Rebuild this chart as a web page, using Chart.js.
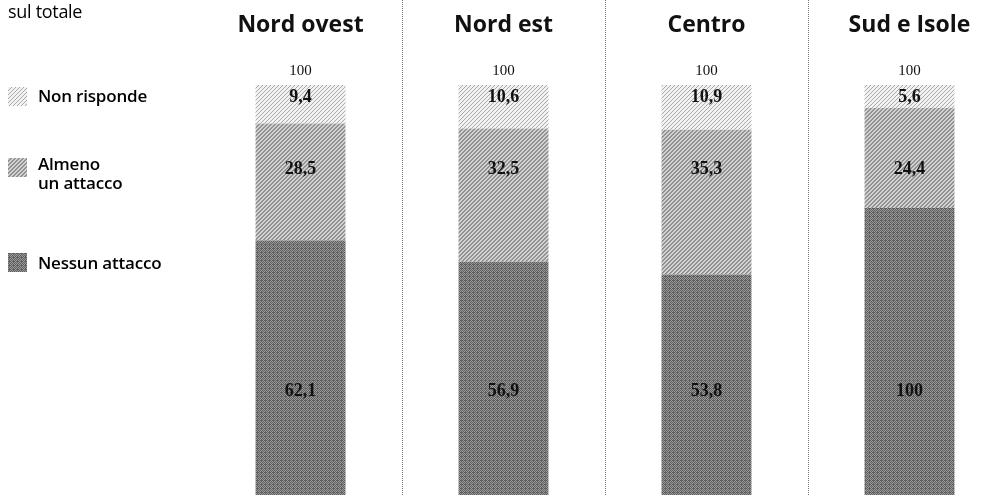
<!DOCTYPE html>
<html><head><meta charset="utf-8">
<script src="https://cdn.jsdelivr.net/npm/chart.js@4/dist/chart.umd.min.js"></script>
<style>
html,body{margin:0;padding:0;background:#fff;overflow:hidden;width:1003px;height:495px;}
#wrap{position:absolute;left:0;top:0;width:1011px;height:495px;}
.lg{position:absolute;font-family:"Open Sans",sans-serif;font-weight:600;font-size:17px;color:#000;line-height:19px;white-space:nowrap;letter-spacing:-0.2px;}
canvas.sw{position:absolute;width:19px;height:19px;}
</style></head><body>
<div id="wrap"><canvas id="c"></canvas></div>
<div class="lg" style="left:8px;top:2px;font-weight:400;font-size:18px;letter-spacing:-0.3px">sul totale</div>
<canvas class="sw" id="sw0" width="19" height="19" style="left:8px;top:87px"></canvas>
<div class="lg" style="left:38px;top:86px">Non risponde</div>
<canvas class="sw" id="sw1" width="19" height="19" style="left:8px;top:158px"></canvas>
<div class="lg" style="left:38px;top:154px">Almeno<br>un attacco</div>
<canvas class="sw" id="sw2" width="19" height="19" style="left:8px;top:253px"></canvas>
<div class="lg" style="left:38px;top:253px">Nessun attacco</div>
<script>
// ---- data ----
const categories = ['Nord ovest', 'Nord est', 'Centro', 'Sud e Isole'];
const seriesNames = ['Nessun attacco', 'Almeno un attacco', 'Non risponde'];
const nessunAttacco = [62.1, 56.9, 53.8, 70.0];
const almenoUnAttacco = [28.5, 32.5, 35.3, 24.4];
const nonRisponde = [9.4, 10.6, 10.9, 5.6];
// printed labels as in the source (last bottom label reads "100")
const nessunLabels = ['62,1', '56,9', '53,8', '100'];
const almenoLabels = ['28,5', '32,5', '35,3', '24,4'];
const nonRispLabels = ['9,4', '10,6', '10,9', '5,6'];
const yRange = [0, 100];

// ---- patterns ----
function makePattern(bg, fg, cells) {
  const c = document.createElement('canvas');
  c.width = 4; c.height = 4;
  const x = c.getContext('2d');
  x.fillStyle = bg; x.fillRect(0, 0, 4, 4);
  x.fillStyle = fg;
  cells.forEach(p => x.fillRect(p[0], p[1], 1, 1));
  return x.createPattern(c, 'repeat');
}
const diag = [[3,0],[2,1],[1,2],[0,3]];
const diag2 = [[3,0],[2,0],[2,1],[1,1],[1,2],[0,2],[0,3],[3,3]];
const patNon = makePattern('#f2f2f2', '#a8a8a8', diag);
const patAlm = makePattern('#d2d2d2', '#929292', diag2);
const patNes = makePattern('#9a9a9a', '#5e5e5e', [[0,0],[2,0],[1,1],[3,1],[0,2],[2,2],[1,3],[3,3],[1,0]]);
const pats = [patNes, patAlm, patNon];
['sw2','sw1','sw0'].forEach((id, i) => {
  const cv = document.getElementById(id);
  const cx = cv.getContext('2d');
  cx.fillStyle = pats[i]; cx.fillRect(0, 0, 19, 19);
});

const labelSets = [nessunLabels, almenoLabels, nonRispLabels];
const labelAnchor = [24.1, 78.3, 95.9]; // value-scale anchors for printed numbers

const overlay = {
  id: 'overlay',
  afterDatasetsDraw(chart) {
    const ctx = chart.ctx;
    const xs = chart.scales.x, ys = chart.scales.y;
    ctx.save();
    // separators
    ctx.strokeStyle = '#777';
    ctx.lineWidth = 1;
    ctx.setLineDash([1, 1]);
    for (let i = 0; i < categories.length - 1; i++) {
      const xm = Math.round((xs.getPixelForValue(i) + xs.getPixelForValue(i + 1)) / 2) + 0.5;
      ctx.beginPath(); ctx.moveTo(xm, 0); ctx.lineTo(xm, 495); ctx.stroke();
    }
    ctx.setLineDash([]);
    // headers
    ctx.fillStyle = '#111';
    ctx.textAlign = 'center';
    ctx.textBaseline = 'alphabetic';
    ctx.font = '700 23px "Open Sans", sans-serif';
    categories.forEach((c, i) => ctx.fillText(c, xs.getPixelForValue(i), 32));
    // totals
    ctx.font = '15px "Liberation Serif", serif';
    categories.forEach((c, i) => {
      const tot = nessunAttacco[i] + almenoUnAttacco[i] + nonRisponde[i];
      ctx.fillText(String(Math.round(tot)), xs.getPixelForValue(i), ys.getPixelForValue(tot) - 10);
    });
    // segment values
    ctx.font = 'bold 18px "Liberation Serif", serif';
    labelSets.forEach((set, d) => {
      set.forEach((t, i) => {
        ctx.fillText(t, xs.getPixelForValue(i), ys.getPixelForValue(labelAnchor[d]));
      });
    });
    ctx.restore();
  }
};

new Chart(document.getElementById('c'), {
  type: 'bar',
  data: {
    labels: categories,
    datasets: [
      { label: seriesNames[0], data: nessunAttacco, backgroundColor: patNes },
      { label: seriesNames[1], data: almenoUnAttacco, backgroundColor: patAlm },
      { label: seriesNames[2], data: nonRisponde, backgroundColor: patNon }
    ]
  },
  options: {
    responsive: true,
    maintainAspectRatio: false,
    animation: false,
    layout: { padding: { left: 199, right: 0, top: 85, bottom: 0 } },
    datasets: { bar: { barPercentage: 0.443, categoryPercentage: 1, borderWidth: 0 } },
    plugins: { legend: { display: false }, tooltip: { enabled: false }, title: { display: false } },
    scales: {
      x: { stacked: true, display: false },
      y: { stacked: true, display: false, min: yRange[0], max: yRange[1] }
    }
  },
  plugins: [overlay]
});
</script>
</body></html>
